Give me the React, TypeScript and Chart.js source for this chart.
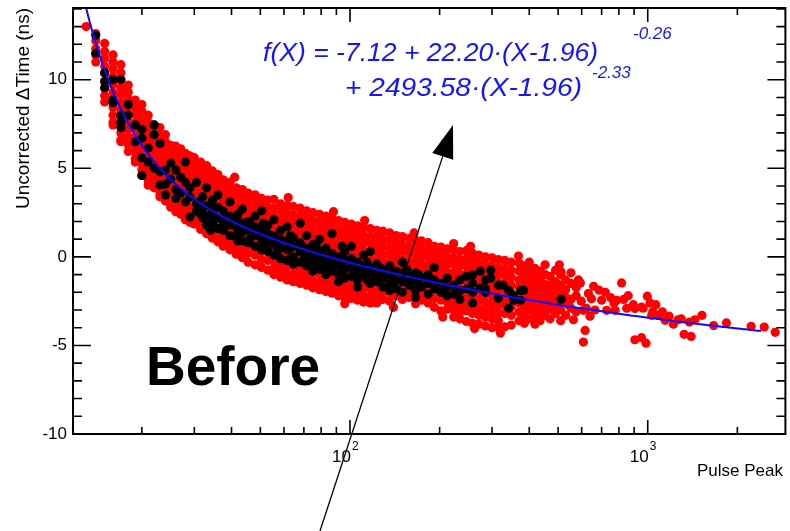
import React, { useEffect, useRef } from "react";
import { Chart, registerables } from "chart.js";

Chart.register(...registerables);

// Axis ranges
const X_MIN = 11.74;
const X_MAX = 2900;
const Y_MIN = -10;
const Y_MAX = 14.05;

// Fit parameters: f(X) = p0 + p1*(X-p2)^p3 + p4*(X-p2)^p5
const FIT_P0 = -7.12;
const FIT_P1 = 22.2;
const FIT_P2 = 1.96;
const FIT_P3 = -0.26;
const FIT_P4 = 2493.58;
const FIT_P5 = -2.33;
const FIT_X_FROM = 12;
const FIT_X_TO = 2400;

const Y_LABELS = [-10, -5, 0, 5, 10];
const X_DECADES = [100, 1000];

// Red events, grouped in pulse-peak columns: [peak, [delta t ...]]
const redSteep: [number, number[]][] = [
  [13, [13.0]],
  [14, [12.6, 12.2, 11.75, 11.4, 11.0]],
  [15, [12.05, 11.6, 11.2, 10.75, 10.35, 9.9, 9.5, 9.1, 8.75]],
  [16, [11.4, 11.0, 10.6, 10.15, 9.75, 9.3, 8.9, 8.45, 8.0, 7.6, 7.45]],
  [17, [10.85, 10.4, 10.0, 9.55, 9.15, 8.7, 8.3, 7.85, 7.45, 7.0, 6.6, 6.5]],
  [18, [9.7, 9.3, 8.9, 8.45, 8.05, 7.6, 7.2, 6.75, 6.35, 5.95]],
  [19, [8.85, 8.45, 8.05, 7.6, 7.2, 6.8, 6.35, 5.95, 5.55, 5.35]],
  [20, [8.6, 8.2, 7.75, 7.35, 6.95, 6.5, 6.1, 5.7, 5.25, 4.9, 4.6]],
  [21, [8.0, 7.6, 7.2, 6.8, 6.35, 5.95, 5.5, 5.1, 4.7, 4.3, 4.05]],
  [22, [7.45, 7.05, 6.65, 6.2, 5.8, 5.4, 4.95, 4.55, 4.15, 3.9]],
  [23, [7.3, 6.85, 6.45, 6.05, 5.6, 5.2, 4.8, 4.35, 3.95, 3.55, 3.4]],
  [24, [6.9, 6.5, 6.05, 5.65, 5.25, 4.8, 4.4, 4.0, 3.6, 3.15]],
  [25, [6.3, 5.9, 5.5, 5.05, 4.65, 4.25, 3.8, 3.4, 3.0, 2.8]],
  [26, [6.25, 5.8, 5.4, 5.0, 4.55, 4.15, 3.75, 3.3, 2.9, 2.55]],
  [27, [6.1, 5.7, 5.3, 4.85, 4.45, 4.05, 3.6, 3.2, 2.8, 2.4]],
  [28, [5.85, 5.45, 5.0, 4.6, 4.2, 3.75, 3.35, 2.95, 2.5, 2.1]],
  [29, [5.7, 5.3, 4.9, 4.45, 4.05, 3.65, 3.2, 2.8, 2.4, 1.95]],
  [30, [5.6, 5.15, 4.75, 4.35, 3.9, 3.5, 3.1, 2.65, 2.25, 1.85]],
];

const redMid: [number, number[]][] = [
  [31.5, [5.35, 4.95, 4.5, 4.1, 3.65, 3.25, 2.8, 2.4, 1.95, 1.55]],
  [33, [5.15, 4.7, 4.3, 3.85, 3.45, 3.0, 2.6, 2.15, 1.75, 1.3]],
  [34.5, [4.85, 4.45, 4.0, 3.6, 3.15, 2.75, 2.3, 1.9, 1.45, 1.05]],
  [36, [4.65, 4.2, 3.8, 3.35, 2.95, 2.5, 2.1, 1.65, 1.25, 0.85]],
  [37.5, [4.35, 3.95, 3.5, 3.1, 2.65, 2.25, 1.8, 1.4, 0.95, 0.6]],
  [39.5, [4.2, 3.75, 3.35, 2.9, 2.5, 2.05, 1.65, 1.2, 0.8, 0.4]],
  [41.5, [3.9, 3.5, 3.05, 2.65, 2.2, 1.8, 1.35, 0.95, 0.5, 0.15]],
  [43.5, [3.8, 3.4, 2.95, 2.55, 2.1, 1.7, 1.25, 0.85, 0.4, -0.05]],
  [45.5, [3.6, 3.2, 2.75, 2.35, 1.9, 1.5, 1.05, 0.65, 0.2, -0.3]],
  [48, [3.5, 3.05, 2.65, 2.2, 1.8, 1.35, 0.95, 0.5, 0.1, -0.45]],
  [50.5, [3.3, 2.85, 2.45, 2.0, 1.6, 1.15, 0.75, 0.3, -0.15, -0.6]],
  [53, [3.2, 2.8, 2.35, 1.95, 1.5, 1.1, 0.65, 0.25, -0.2, -0.75]],
  [55.5, [3.25, 2.75, 2.3, 1.9, 1.45, 1.05, 0.6, 0.2, -0.25, -0.65, -1.0]],
  [58.5, [3.0, 2.6, 2.15, 1.75, 1.3, 0.9, 0.45, 0.05, -0.4, -0.8, -1.15]],
  [61.5, [2.9, 2.45, 2.05, 1.6, 1.2, 0.75, 0.35, -0.1, -0.5, -0.95, -1.3]],
  [64.5, [2.85, 2.4, 2.0, 1.55, 1.15, 0.7, 0.3, -0.15, -0.55, -1.0, -1.4]],
  [68, [2.75, 2.3, 1.85, 1.45, 1.0, 0.6, 0.15, -0.25, -0.7, -1.1, -1.5]],
  [71.5, [2.6, 2.2, 1.75, 1.35, 0.9, 0.5, 0.05, -0.35, -0.8, -1.2, -1.6]],
  [75, [2.5, 2.05, 1.65, 1.2, 0.8, 0.35, -0.05, -0.5, -0.9, -1.35, -1.75]],
  [79, [2.4, 1.95, 1.55, 1.1, 0.7, 0.25, -0.15, -0.6, -1.0, -1.45, -1.85]],
  [83, [2.3, 1.9, 1.45, 1.05, 0.6, 0.2, -0.25, -0.65, -1.1, -1.5, -1.95]],
  [87, [2.2, 1.75, 1.35, 0.9, 0.5, 0.05, -0.35, -0.8, -1.2, -1.65, -2.05]],
  [91.5, [2.05, 1.6, 1.2, 0.75, 0.35, -0.1, -0.5, -0.95, -1.35, -1.8, -2.2]],
  [96, [1.95, 1.55, 1.1, 0.7, 0.25, -0.15, -0.6, -1.0, -1.45, -1.85, -2.3]],
  [101, [1.85, 1.4, 1.0, 0.55, 0.15, -0.3, -0.7, -1.15, -1.55, -2.0, -2.35]],
  [106, [1.75, 1.35, 0.9, 0.5, 0.05, -0.35, -0.8, -1.2, -1.65, -2.05, -2.45]],
  [111, [1.7, 1.25, 0.85, 0.4, 0.0, -0.45, -0.85, -1.3, -1.7, -2.15, -2.55]],
  [117, [1.6, 1.15, 0.75, 0.3, -0.1, -0.55, -0.95, -1.4, -1.8, -2.25, -2.6]],
  [123, [1.5, 1.1, 0.65, 0.25, -0.2, -0.6, -1.05, -1.45, -1.9, -2.3, -2.6]],
  [129, [1.45, 1.0, 0.6, 0.15, -0.25, -0.7, -1.1, -1.55, -1.95, -2.4]],
];

const redWide: [number, number[]][] = [
  [136, [1.35, 0.95, 0.5, 0.1, -0.35, -0.75, -1.2, -1.6, -2.05, -2.5]],
  [143, [1.2, 0.8, 0.35, -0.05, -0.5, -1.35, -1.8, -2.2]],
  [150, [1.15, 0.7, 0.3, -0.15, -0.55, -1.0, -1.4, -1.85, -2.4]],
  [158, [1.05, 0.6, 0.2, -0.25, -0.65, -1.1, -1.5, -1.95, -2.3]],
  [166, [0.95, 0.55, 0.1, -0.3, -0.75, -1.15, -1.6, -2.0, -2.65]],
  [174, [0.9, 0.45, 0.05, -0.4, -0.8, -1.25, -1.65, -2.1, -2.45]],
  [183, [0.8, 0.35, -0.05, -0.5, -0.9, -1.35, -1.75, -2.2, -2.6]],
  [192, [0.6, 0.2, -0.2, -0.65, -1.05, -1.5, -1.9, -2.35, -2.85]],
  [202, [0.55, 0.1, -0.3, -0.75, -1.15, -1.6, -2.0, -2.45, -3.05]],
  [212, [0.45, 0.0, -0.4, -0.85, -1.25, -1.7, -2.1, -2.55, -2.95]],
  [223, [0.4, -0.05, -0.45, -0.9, -1.3, -1.75, -2.15, -2.6, -3.0, -3.4]],
  [234, [0.3, -0.15, -0.55, -1.0, -1.4, -1.85, -2.25, -2.7, -3.1, -3.5]],
  [246, [0.35, -0.1, -0.5, -0.95, -1.35, -1.8, -2.2, -2.65, -3.05, -3.65]],
  [258, [0.2, -0.25, -0.65, -1.1, -1.5, -1.95, -2.35, -2.8, -3.2, -3.75]],
  [271, [0.1, -0.35, -0.75, -1.2, -1.6, -2.05, -2.45, -2.9, -3.3, -3.8]],
  [285, [0.0, -0.4, -0.85, -1.25, -1.7, -2.1, -2.55, -2.95, -3.4, -3.9]],
  [300, [-0.05, -0.5, -0.9, -1.35, -1.75, -2.2, -2.6, -3.05, -3.5, -4.0]],
  [315, [-0.15, -0.6, -1.0, -1.45, -1.85, -2.3, -2.7, -3.15, -3.6, -4.0]],
  [331, [-0.2, -0.65, -1.05, -1.5, -1.9, -2.35, -2.75, -3.2, -3.95]],
  [348, [-0.3, -0.75, -1.15, -1.6, -2.0, -2.45, -2.85, -3.3, -3.85]],
  [370, [-0.35, -0.8, -1.3, -1.7, -2.2, -2.6, -3.1, -3.6]],
  [385, [-0.5, -1.0, -1.45, -1.9, -2.35, -2.8, -3.3, -3.75]],
  [400, [-0.3, -0.75, -1.2, -1.65, -2.1, -2.55, -3.0, -3.5]],
  [418, [-0.65, -1.05, -1.5, -2.0, -2.45, -2.9, -3.35, -3.8]],
  [435, [-0.8, -1.3, -1.75, -2.2, -2.65, -3.1, -3.6]],
  [452, [-0.45, -1.0, -1.55, -2.0, -2.4, -2.85, -3.3]],
  [470, [-1.1, -1.6, -2.05, -2.5, -2.95, -3.5]],
  [490, [-0.75, -1.4, -1.85, -2.3, -2.75, -3.2]],
  [510, [-1.0, -1.6, -2.1, -2.55, -3.0, -3.6]],
  [530, [-1.3, -1.85, -2.3, -3.3]],
  [552, [-0.9, -1.5, -2.4, -2.9]],
  [575, [-1.75, -2.2, -3.1]],
];

// Isolated red events: [peak, delta t]
const redTail: [number, number][] = [
  [594, -1.47], [658, -1.66], [687, -1.88], [632, -2.07], [608, -3.02],
  [647, -2.36], [700, -2.45], [728, -3.02], [777, -3.02], [787, -2.45],
  [817, -1.47], [860, -2.19], [905, -2.92], [953, -2.83], [997, -2.22],
  [1018, -2.6], [1031, -3.3], [1085, -3.3], [905, -4.68], [953, -4.56],
  [987, -4.87], [608, -4.81], [616, -4.15], [1265, -3.55], [1380, -3.68],
  [1325, -4.37], [1398, -4.49], [1521, -3.3], [1665, -3.88], [1838, -3.73],
  [2225, -3.92], [2462, -3.96], [2680, -4.26], [1144, -3.58], [1180, -3.35],
  [1120, -3.1], [1220, -3.8], [720, -2.0], [750, -2.3], [770, -2.6],
  [830, -2.4], [850, -2.9], [895, -2.7], [965, -2.9], [1040, -3.1],
  [1065, -2.7], [1296, -3.5], [1440, -3.55], [622, -2.9], [665, -3.0],
  [41, 4.5], [62, 3.35], [88, 2.55], [112, 2.05], [164, 1.35],
  [223, 0.75], [254, 0.6], [368, 0.05], [505, -0.45], [512, -0.85],
  [96, -2.65], [140, -2.85], [205, -3.4], [262, -4.05], [320, -4.3],
  [541, -2.7], [563, -3.55], [585, -1.3], [598, -2.5], [640, -3.35],
];

// Black events
const blackSteep: [number, number[]][] = [
  [14, [12.5, 11.5]],
  [15, [10.4, 9.9, 9.55]],
  [16, [10.0, 8.87, 8.7]],
  [17, [10.0, 8.0, 7.6, 7.3]],
  [18, [8.6, 8.0]],
  [19, [7.45, 6.5]],
  [20, [7.2, 6.7, 5.6, 4.6]],
  [21, [6.15, 5.36]],
  [22, [7.45, 6.9, 5.0]],
  [23, [6.4, 4.8, 4.06]],
  [24, [4.9, 4.1, 3.5]],
  [25, [5.3, 4.4]],
  [26, [4.9, 3.8, 3.3]],
  [27, [4.5, 3.6]],
  [28, [5.35, 4.2, 3.1]],
  [29, [3.9, 3.4, 2.25]],
  [30.5, [4.2, 3.0, 2.6]],
];

const blackCore: [number, number[]][] = [
  [31, [3.1, 2.5]],
  [32, [3.4, 2.7, 2.2]],
  [33, [3.9, 2.9, 2.3, 1.8]],
  [34, [2.9, 2.1, 1.5]],
  [34.5, [3.2, 2.5, 1.9]],
  [36, [3.5, 2.8, 2.2, 1.6]],
  [37.5, [2.6, 2.0, 1.5]],
  [38, [2.3, 1.7]],
  [39.5, [3.1, 2.3, 1.8, 1.2]],
  [41.5, [2.2, 1.7, 1.1]],
  [42, [2.4, 1.4, 0.9]],
  [43.5, [2.7, 1.9, 1.4, 0.9]],
  [45.5, [2.0, 1.5, 0.8]],
  [46, [1.9, 1.0]],
  [48, [2.3, 1.7, 1.2, 0.6]],
  [50.5, [2.6, 1.5, 1.0, 0.4]],
  [51, [1.9, 1.2, 0.7]],
  [53, [1.8, 1.3, 0.8, 0.3]],
  [55.5, [2.1, 1.2, 0.7, 0.1]],
  [57, [0.9, 0.3]],
  [58.5, [1.5, 1.0, 0.5, -0.1]],
  [61.5, [1.7, 0.9, 0.4, -0.2]],
  [63, [1.2, 0.5, -0.1]],
  [64.5, [1.1, 0.6, 0.0, -0.4]],
  [68, [1.9, 0.8, 0.3, -0.3]],
  [70, [0.5, -0.1]],
  [71.5, [1.2, 0.5, 0.0, -0.5]],
  [75, [0.7, 0.2, -0.3, -0.8]],
  [77, [0.6, 0.0, -0.5]],
  [79, [1.0, 0.3, -0.2, -0.7]],
  [83, [0.5, 0.0, -0.5, -1.0]],
  [85, [-0.2, -0.7]],
  [87, [1.3, 0.2, -0.3, -0.8]],
  [91.5, [0.0, -0.5, -1.0, -1.4]],
  [94, [0.6, -0.3, -0.9]],
  [96, [0.3, -0.2, -0.7, -1.2]],
  [101, [0.6, -0.1, -0.6, -1.1]],
  [103, [-0.4, -1.0]],
  [106, [-0.3, -0.8, -1.3, -1.7]],
  [111, [0.1, -0.5, -1.0]],
  [114, [-0.3, -0.8, -1.3]],
  [117, [0.3, -0.6, -1.1, -1.5]],
  [123, [-0.4, -0.9, -1.4]],
  [126, [-0.6, -1.1]],
  [129, [-0.7, -1.2, -1.7]],
  [136, [-0.5, -1.0, -1.5, -1.9]],
  [140, [-1.0, -1.6]],
  [143, [-0.8, -1.3, -1.8]],
  [150, [-0.3, -0.9, -1.4, -2.0]],
  [155, [-0.7, -1.3]],
  [158, [-1.1, -1.6]],
  [166, [-0.9, -1.3, -1.9, -2.3]],
  [170, [-1.0, -1.6]],
  [174, [-1.2, -1.7]],
  [183, [-1.0, -1.5, -2.1]],
  [192, [-0.6, -1.3, -1.8]],
  [202, [-1.5, -2.0]],
  [212, [-1.2, -1.7, -2.2]],
  [223, [-1.6, -2.1]],
  [234, [-1.3, -1.9, -2.4]],
  [246, [-1.1, -1.8]],
  [258, [-1.03, -1.5, -2.0, -2.6]],
  [274, [-0.8, -1.77]],
  [285, [-1.3, -1.8, -2.0]],
  [297, [-0.75, -1.2]],
  [315, [-1.6, -2.34]],
  [327, [-1.6]],
  [341, [-1.9, -2.9]],
  [354, [-2.17, -2.45]],
  [374, [-1.9, -2.45]],
  [383, [-1.88]],
];

const blackTail: [number, number][] = [[512, -2.39]];

const toPoints = (cols: [number, number[]][]) =>
  cols.flatMap(([x, ys]) => ys.map((y) => ({ x, y })));

const fitValue = (x: number) =>
  FIT_P0 +
  FIT_P1 * Math.pow(x - FIT_P2, FIT_P3) +
  FIT_P4 * Math.pow(x - FIT_P2, FIT_P5);

const fitCurve = () => {
  const n = 400;
  const out: { x: number; y: number }[] = [];
  const a = Math.log10(FIT_X_FROM);
  const b = Math.log10(FIT_X_TO);
  for (let i = 0; i <= n; i++) {
    const x = Math.pow(10, a + ((b - a) * i) / n);
    out.push({ x, y: fitValue(x) });
  }
  return out;
};

const FONT = '"Liberation Sans", Arial, Helvetica, sans-serif';

// draws text starting at x and stretched or squeezed to end at xEnd
const fitText = (ctx: CanvasRenderingContext2D, text: string, x: number, xEnd: number, y: number) => {
  const w = ctx.measureText(text).width;
  ctx.save();
  ctx.translate(x, y);
  ctx.scale((xEnd - x) / w, 1);
  ctx.fillText(text, 0, 0);
  ctx.restore();
};

const framePlugin = {
  id: "rootFrame",
  afterDatasetsDraw(chart: any) {
    const { ctx, chartArea: a, scales } = chart;
    const xs = scales.x;
    const ys = scales.y;
    ctx.save();

    // frame
    ctx.strokeStyle = "#000";
    ctx.lineWidth = 2;
    ctx.strokeRect(a.left, a.top, a.right - a.left, a.bottom - a.top);

    // ticks, pointing inward on all four sides
    ctx.lineWidth = 1.6;
    ctx.beginPath();
    for (let v = Y_MIN; v <= Math.floor(Y_MAX); v++) {
      const y = ys.getPixelForValue(v);
      const len = v % 5 === 0 ? 18 : 9;
      ctx.moveTo(a.left, y);
      ctx.lineTo(a.left + len, y);
      ctx.moveTo(a.right, y);
      ctx.lineTo(a.right - len, y);
    }
    for (const d of [10, 100, 1000]) {
      for (let m = 1; m <= 9; m++) {
        const v = m * d;
        if (v < X_MIN || v > X_MAX) continue;
        const x = xs.getPixelForValue(v);
        const len = m === 1 ? 14 : 7;
        ctx.moveTo(x, a.bottom);
        ctx.lineTo(x, a.bottom - len);
        ctx.moveTo(x, a.top);
        ctx.lineTo(x, a.top + len);
      }
    }
    ctx.stroke();

    // y tick labels
    ctx.fillStyle = "#000";
    ctx.font = `17px ${FONT}`;
    ctx.textAlign = "right";
    ctx.textBaseline = "middle";
    for (const v of Y_LABELS) {
      ctx.fillText(String(v), 67, ys.getPixelForValue(v));
    }

    // x decade labels 10^n
    ctx.textBaseline = "alphabetic";
    for (const d of X_DECADES) {
      const x = xs.getPixelForValue(d);
      ctx.font = `17px ${FONT}`;
      ctx.textAlign = "right";
      ctx.fillText("10", x + 1, 462);
      ctx.font = `12px ${FONT}`;
      ctx.textAlign = "left";
      ctx.fillText(String(Math.round(Math.log10(d))), x + 2, 450);
    }

    // axis titles
    ctx.font = `17px ${FONT}`;
    ctx.textAlign = "right";
    ctx.fillText("Pulse Peak", 783, 476);

    ctx.save();
    ctx.translate(29, 8);
    ctx.rotate(-Math.PI / 2);
    ctx.font = `19px ${FONT}`;
    ctx.textAlign = "right";
    ctx.fillText("Uncorrected \u0394Time (ns)", 0, 0);
    ctx.restore();

    // fit formula
    ctx.fillStyle = "#1414ff";
    ctx.textAlign = "left";
    ctx.font = `italic 26px ${FONT}`;
    fitText(
      ctx,
      `f(X) = ${FIT_P0.toFixed(2)} + ${FIT_P1.toFixed(2)}\u00b7(X-${FIT_P2.toFixed(2)})`,
      263,
      598,
      61
    );
    fitText(ctx, `+ ${FIT_P4.toFixed(2)}\u00b7(X-${FIT_P2.toFixed(2)})`, 345, 582, 96);
    ctx.font = `italic 17px ${FONT}`;
    ctx.fillText(FIT_P3.toFixed(2), 633, 39);
    ctx.fillText(FIT_P5.toFixed(2), 592, 78);

    // stage label
    ctx.fillStyle = "#000";
    ctx.font = `bold 55px ${FONT}`;
    ctx.fillText("Before", 146, 385);

    // arrow
    const tip = { x: 453, y: 125 };
    const tail = { x: 320, y: 531 };
    const dx = tip.x - tail.x;
    const dy = tip.y - tail.y;
    const L = Math.hypot(dx, dy);
    const ux = dx / L;
    const uy = dy / L;
    const headLen = 33;
    const half = 11;
    const bx = tip.x - ux * headLen;
    const by = tip.y - uy * headLen;
    ctx.strokeStyle = "#000";
    ctx.lineWidth = 1.3;
    ctx.beginPath();
    ctx.moveTo(tail.x, tail.y);
    ctx.lineTo(bx, by);
    ctx.stroke();
    ctx.beginPath();
    ctx.moveTo(tip.x, tip.y);
    ctx.lineTo(bx - uy * half, by + ux * half);
    ctx.lineTo(bx + uy * half, by - ux * half);
    ctx.closePath();
    ctx.fill();

    ctx.restore();
  },
};

export default function App() {
  const canvasRef = useRef<HTMLCanvasElement | null>(null);

  useEffect(() => {
    const canvas = canvasRef.current;
    if (!canvas) return;
    const red = [
      ...toPoints(redSteep),
      ...toPoints(redMid),
      ...toPoints(redWide),
      ...redTail.map(([x, y]) => ({ x, y })),
    ];
    const black = [
      ...toPoints(blackSteep),
      ...toPoints(blackCore),
      ...blackTail.map(([x, y]) => ({ x, y })),
    ];
    const chart = new Chart(canvas, {
      type: "scatter",
      data: {
        datasets: [
          {
            label: "fit",
            data: fitCurve(),
            showLine: true,
            borderColor: "#0a0aff",
            borderWidth: 2,
            pointRadius: 0,
            fill: false,
          },
          {
            label: "black",
            data: black,
            backgroundColor: "#000000",
            pointRadius: 4.6,
            pointBorderWidth: 0,
          },
          {
            label: "red",
            data: red,
            backgroundColor: "#ff0000",
            pointRadius: 4.6,
            pointBorderWidth: 0,
          },
        ],
      },
      options: {
        responsive: false,
        animation: false,
        events: [],
        layout: { padding: { left: 73, right: 2, top: 8, bottom: 97 } },
        plugins: { legend: { display: false }, tooltip: { enabled: false } },
        scales: {
          x: { type: "logarithmic", min: X_MIN, max: X_MAX, display: false },
          y: { type: "linear", min: Y_MIN, max: Y_MAX, display: false },
        },
      },
      plugins: [framePlugin],
    });
    return () => chart.destroy();
  }, []);

  return (
    <div style={{ position: "fixed", left: 0, top: 0, width: 790, height: 531, background: "#fff" }}>
      <canvas ref={canvasRef} width={790} height={531} style={{ display: "block" }} />
    </div>
  );
}
